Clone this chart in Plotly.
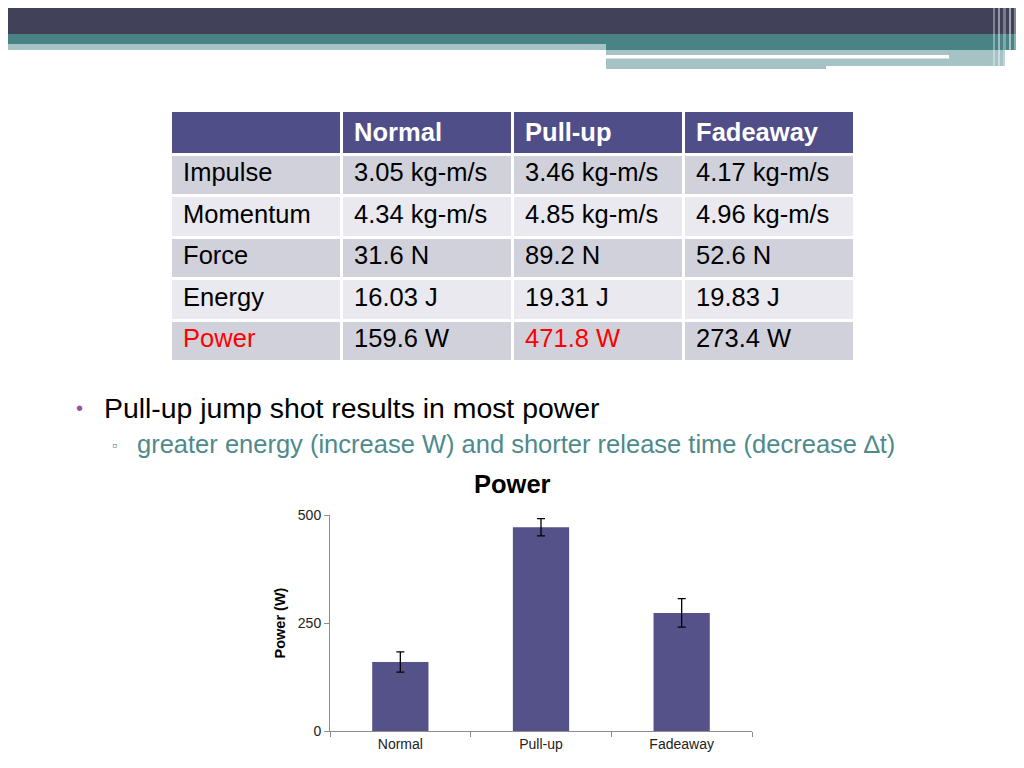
import plotly.graph_objects as go

# the page body has an 8px margin, so the figure is drawn 8px in from the corner
OFF = 8
W, H = 1024 - 2 * OFF, 768 - 2 * OFF

# table data
col_headers = ["", "Normal", "Pull-up", "Fadeaway"]
row_labels = ["Impulse", "Momentum", "Force", "Energy", "Power"]
normal_vals = ["3.05 kg-m/s", "4.34 kg-m/s", "31.6 N", "16.03 J", "159.6 W"]
pullup_vals = ["3.46 kg-m/s", "4.85 kg-m/s", "89.2 N", "19.31 J", "471.8 W"]
fadeaway_vals = ["4.17 kg-m/s", "4.96 kg-m/s", "52.6 N", "19.83 J", "273.4 W"]

# chart data
shots = ["Normal", "Pull-up", "Fadeaway"]
power_w = [159.6, 471.8, 273.4]
power_err = [23.5, 20, 33]
y_ticks = [0, 250, 500]

FONT = "Liberation Sans, Arial, sans-serif"
HEADER_FILL = "#504e89"
ROW_DARK = "#d1d1db"
ROW_LIGHT = "#e9e9ef"
BAR_COLOR = "#55528a"
TEAL = "#4a8385"
LIGHT_TEAL = "#a5c3c5"
PAD = "\u2009"


def px_x(x):
    return (x - OFF) / W


def px_y(y):
    return 1 - (y - OFF) / H


def rect(x0, x1, y0, y1, color, opacity=1):
    return dict(type="rect", xref="paper", yref="paper",
                x0=px_x(x0), x1=px_x(x1), y0=px_y(y1), y1=px_y(y0),
                fillcolor=color, opacity=opacity, line_width=0, layer="below")


def label(text, x, y, size, color, anchor="left"):
    return dict(text=text, xref="paper", yref="paper", x=px_x(x), y=px_y(y),
                xanchor=anchor, yanchor="middle", showarrow=False,
                font=dict(family=FONT, size=size, color=color))


row_fills = [ROW_DARK if i % 2 == 0 else ROW_LIGHT for i in range(len(row_labels))]
highlight = ["red" if r == "Power" else "black" for r in row_labels]
plain = ["black"] * len(row_labels)

fig = go.Figure()

fig.add_trace(go.Table(
    domain=dict(x=[px_x(170), px_x(854)], y=[px_y(362), px_y(110)]),
    columnwidth=[1, 1, 1, 1],
    header=dict(
        values=[f"<b>{PAD}{h}</b>" if h else "" for h in col_headers],
        fill_color=HEADER_FILL,
        line=dict(color="white", width=3),
        font=dict(family=FONT, size=25.5, color="white"),
        align="left",
        height=42,
    ),
    cells=dict(
        values=[[PAD + v for v in col] for col in [row_labels, normal_vals, pullup_vals, fadeaway_vals]],
        fill_color=[row_fills] * 4,
        line=dict(color="white", width=3),
        font=dict(family=FONT, size=25.5, color=[highlight, plain, highlight, plain]),
        align="left",
        height=41.5,
    ),
))

fig.add_trace(go.Bar(
    x=shots, y=power_w,
    marker=dict(color=BAR_COLOR, line=dict(width=0)),
    error_y=dict(type="data", array=power_err, color="black", thickness=1.3, width=4),
    width=0.4,
    hoverinfo="skip",
))

# slide header decoration
shapes = [
    rect(0, 1024, 0, 34, "#41425a"),
    rect(0, 1024, 34, 44, TEAL),
    rect(0, 606, 44, 50, LIGHT_TEAL),
    rect(606, 1024, 44, 50, TEAL),
    rect(606, 1005, 50, 66, LIGHT_TEAL),
    rect(606, 826, 66, 69, LIGHT_TEAL),
    rect(606, 949, 55, 58.5, "white"),
]
for x0, x1, op in [(993, 995, 0.35), (998, 1000, 0.45), (1003, 1006, 0.3),
                   (1009, 1011, 0.5), (1014, 1016, 0.35), (1019, 1021, 0.45)]:
    shapes.append(rect(x0, x1, 0, 69, "white", op))

annotations = [
    label("•", 79, 408, 20, "#9e4fa5", "center"),
    label("Pull-up jump shot results in most power", 102, 408, 28.4, "black"),
    label("▫", 114, 445, 14, "#4f6f75", "center"),
    label("greater energy (increase W) and shorter release time (decrease ∆t)", 135, 444, 25.5, "#4e8a8c"),
    label("<b>Power</b>", 512, 484, 25.5, "black", "center"),
]

fig.update_layout(
    width=W, height=H,
    margin=dict(l=0, r=0, t=0, b=0, autoexpand=False),
    paper_bgcolor="white", plot_bgcolor="white",
    showlegend=False,
    shapes=shapes,
    annotations=annotations,
    font=dict(family=FONT, color="black"),
    xaxis=dict(
        domain=[px_x(330), px_x(752)],
        automargin=False,
        showline=True, linecolor="#8c8c8c", linewidth=1,
        ticks="outside", tickson="boundaries", ticklen=5, tickcolor="#8c8c8c",
        tickfont=dict(size=14, color="#222"),
        showgrid=False, zeroline=False,
    ),
    yaxis=dict(
        domain=[px_y(731), px_y(515)],
        automargin=False,
        range=[0, 500],
        tickvals=y_ticks,
        showline=True, linecolor="#8c8c8c", linewidth=1,
        ticks="outside", ticklen=5, tickcolor="#8c8c8c",
        tickfont=dict(size=14, color="#222"),
        title=dict(text="<b>Power (W)</b>", font=dict(size=14.5, color="black"), standoff=8),
        showgrid=False, zeroline=False,
    ),
)

fig.write_html("out.html", config={"displayModeBar": False})
